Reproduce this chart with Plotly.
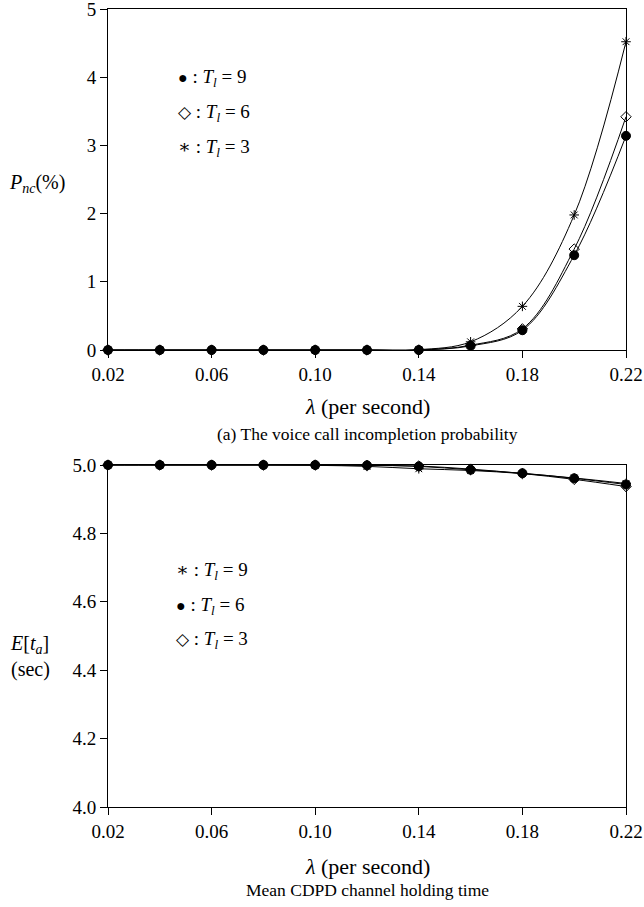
import plotly.graph_objects as go

# ---- data ----
lam = [0.02, 0.04, 0.06, 0.08, 0.10, 0.12, 0.14, 0.16, 0.18, 0.20, 0.22]

# (a) voice call incompletion probability, percent
pnc_T9 = [0, 0, 0, 0, 0, 0, 0.0, 0.06, 0.29, 1.39, 3.14]
pnc_T6 = [0, 0, 0, 0, 0, 0, 0.0, 0.07, 0.31, 1.48, 3.42]
pnc_T3 = [0, 0, 0, 0, 0, 0, 0.005, 0.12, 0.64, 1.98, 4.52]

# mean CDPD channel holding time (sec)
eta_T9 = [5.0, 5.0, 5.0, 5.0, 4.999, 4.996, 4.989, 4.984, 4.975, 4.962, 4.946]
eta_T6 = [5.0, 5.0, 5.0, 5.0, 5.0, 4.999, 4.996, 4.986, 4.976, 4.961, 4.943]
eta_T3 = [5.0, 5.0, 5.0, 5.0, 5.0, 4.999, 4.997, 4.988, 4.975, 4.958, 4.937]

x_ticks = [0.02, 0.06, 0.10, 0.14, 0.18, 0.22]
x_ticklabels = ["0.02", "0.06", "0.10", "0.14", "0.18", "0.22"]
top_yticks = [0, 1, 2, 3, 4, 5]
bot_yticks = [4.0, 4.2, 4.4, 4.6, 4.8, 5.0]

W, H = 644, 907
FONT = "Liberation Serif, DejaVu Serif, serif"

def py(p):
    return (H - p) / H

def px(p):
    return p / W

fig = go.Figure()

def add(xa, ya, y, symbol, size):
    fig.add_trace(go.Scatter(
        x=lam, y=y, xaxis=xa, yaxis=ya, mode="lines+markers",
        line=dict(color="black", width=1, shape="spline", smoothing=1.0),
        marker=dict(symbol=symbol, size=size, color="black",
                    line=dict(color="black", width=1)),
        cliponaxis=False, showlegend=False))

add("x", "y", pnc_T9, "circle", 9)
add("x", "y", pnc_T6, "diamond-open", 8)
add("x", "y", pnc_T3, "asterisk-open", 8)

add("x2", "y2", eta_T9, "asterisk-open", 8)
add("x2", "y2", eta_T6, "circle", 9)
add("x2", "y2", eta_T3, "diamond-open", 8)

xdom = [px(108), px(626)]
axis_common = dict(showline=True, linecolor="black", linewidth=1, mirror=True,
                   ticks="outside", ticklen=7, tickcolor="black", tickwidth=1,
                   showgrid=False, zeroline=False, automargin=False,
                   ticklabeloverflow="allow",
                   tickfont=dict(family=FONT, size=19, color="black"))

fig.update_layout(
    width=W, height=H, autosize=False,
    margin=dict(l=0, r=0, t=0, b=0, autoexpand=False),
    paper_bgcolor="white", plot_bgcolor="white",
    xaxis=dict(domain=xdom, anchor="y", range=[0.02, 0.22],
               tickvals=x_ticks, ticktext=x_ticklabels, **axis_common),
    yaxis=dict(domain=[py(350), py(9)], anchor="x", range=[0, 5],
               tickvals=top_yticks, ticktext=[str(v) for v in top_yticks], **axis_common),
    xaxis2=dict(domain=xdom, anchor="y2", range=[0.02, 0.22],
                tickvals=x_ticks, ticktext=x_ticklabels, **axis_common),
    yaxis2=dict(domain=[py(807), py(465)], anchor="x2", range=[4.0, 5.0],
                tickvals=bot_yticks, ticktext=["%.1f" % v for v in bot_yticks], **axis_common),
)

def ann(text, x, y, xanchor="center", size=19, align="center"):
    fig.add_annotation(text=text, x=x, y=y, xref="paper", yref="paper",
                       xanchor=xanchor, yanchor="middle", showarrow=False, align=align,
                       font=dict(family=FONT, size=size, color="black"))

Tl = "<i>T</i><sub><i>l</i></sub>"
DOT = "<span style='font-size:16px'>●</span>"
DIA = "<span style='font-size:17px'>◇</span>"
STAR = "∗"
cx = px(367)

# top chart text
ann("<i>λ</i> (per second)", cx, py(407), size=22)
ann("(a) The voice call incompletion probability", cx, py(434), size=17.5)
ann("<i>P</i><sub><i>nc</i></sub>(%)", px(7), py(183), xanchor="left", size=20)
ann(DOT + " : " + Tl + " = 9", px(176), py(78), xanchor="left")
ann(DIA + " : " + Tl + " = 6", px(176), py(113), xanchor="left")
ann(STAR + " : " + Tl + " = 3", px(176), py(148), xanchor="left")

# bottom chart text
ann("<i>λ</i> (per second)", cx, py(866), size=22)
ann("Mean CDPD channel holding time", cx, py(890), size=17.5)
ann("<i>E</i>[<i>t</i><sub><i>a</i></sub>]<br>(sec)", px(8), py(656), xanchor="left", align="left", size=20)
ann(STAR + " : " + Tl + " = 9", px(174), py(571), xanchor="left")
ann(DOT + " : " + Tl + " = 6", px(174), py(606), xanchor="left")
ann(DIA + " : " + Tl + " = 3", px(174), py(640), xanchor="left")

fig.write_html("out.html", config={"displayModeBar": False},
               post_script="document.body.style.margin='0';document.body.style.padding='0';")
